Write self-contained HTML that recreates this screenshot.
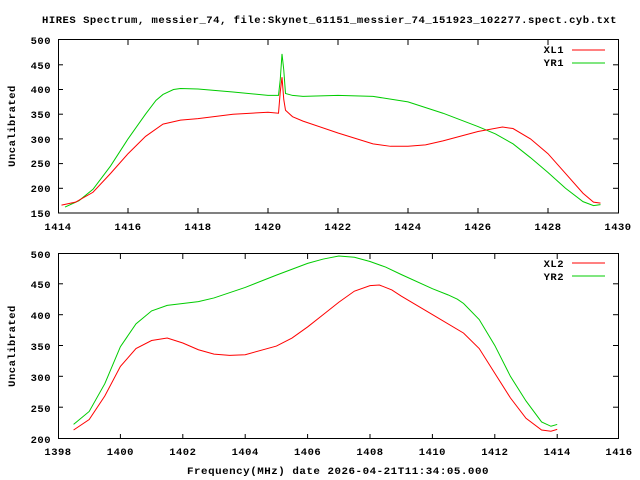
<!DOCTYPE html>
<html><head><style>
body{margin:0;background:#fff;}
svg{display:block;}
text{font-family:"Liberation Mono",monospace;font-size:10.5px;font-weight:bold;fill:#000;letter-spacing:0.5px;}
.l{fill:none;stroke-width:1;vector-effect:non-scaling-stroke;}
</style></head><body>
<svg width="640" height="480" xmlns="http://www.w3.org/2000/svg">
<text x="42" y="23" textLength="575" lengthAdjust="spacingAndGlyphs">HIRES Spectrum, messier_74, file:Skynet_61151_messier_74_151923_102277.spect.cyb.txt</text>
<!-- plot 1 -->
<rect x="58.5" y="39.5" width="560" height="173.5" fill="none" stroke="#000"/>
<g stroke="#000">
<line x1="128" y1="213" x2="128" y2="208"/><line x1="198" y1="213" x2="198" y2="208"/><line x1="268" y1="213" x2="268" y2="208"/><line x1="338" y1="213" x2="338" y2="208"/><line x1="408" y1="213" x2="408" y2="208"/><line x1="478" y1="213" x2="478" y2="208"/><line x1="548" y1="213" x2="548" y2="208"/>
<line x1="128" y1="40" x2="128" y2="45"/><line x1="198" y1="40" x2="198" y2="45"/><line x1="268" y1="40" x2="268" y2="45"/><line x1="338" y1="40" x2="338" y2="45"/><line x1="408" y1="40" x2="408" y2="45"/><line x1="478" y1="40" x2="478" y2="45"/><line x1="548" y1="40" x2="548" y2="45"/>
<line x1="58" y1="188.3" x2="63" y2="188.3"/><line x1="58" y1="163.6" x2="63" y2="163.6"/><line x1="58" y1="138.9" x2="63" y2="138.9"/><line x1="58" y1="114.2" x2="63" y2="114.2"/><line x1="58" y1="89.5" x2="63" y2="89.5"/><line x1="58" y1="64.8" x2="63" y2="64.8"/>
<line x1="618" y1="188.3" x2="613" y2="188.3"/><line x1="618" y1="163.6" x2="613" y2="163.6"/><line x1="618" y1="138.9" x2="613" y2="138.9"/><line x1="618" y1="114.2" x2="613" y2="114.2"/><line x1="618" y1="89.5" x2="613" y2="89.5"/><line x1="618" y1="64.8" x2="613" y2="64.8"/>
</g>
<g text-anchor="end">
<text x="51" y="217">150</text><text x="51" y="192">200</text><text x="51" y="167">250</text><text x="51" y="143">300</text><text x="51" y="118">350</text><text x="51" y="93">400</text><text x="51" y="69">450</text><text x="51" y="44">500</text>
</g>
<g text-anchor="middle">
<text x="58" y="230">1414</text><text x="128" y="230">1416</text><text x="198" y="230">1418</text><text x="268" y="230">1420</text><text x="338" y="230">1422</text><text x="408" y="230">1424</text><text x="478" y="230">1426</text><text x="548" y="230">1428</text><text x="618" y="230">1430</text>
</g>
<text transform="translate(15,126) rotate(-90)" text-anchor="middle">Uncalibrated</text>
<text x="564" y="53" text-anchor="end">XL1</text><line x1="572" y1="50" x2="605" y2="50" stroke="#f00"/>
<text x="564" y="66" text-anchor="end">YR1</text><line x1="572" y1="63" x2="605" y2="63" stroke="#0c0"/>
<g transform="translate(58,213) scale(35,-0.494) translate(-1414,-150)">
<polyline class="l" stroke="#0c0" points="1414.2,162 1414.6,175 1415,198 1415.5,245 1416,300 1416.5,350 1416.8,378 1417,390 1417.3,400 1417.5,402 1418,401 1419,395 1420,388 1420.3,388 1420.35,420 1420.4,472 1420.45,440 1420.5,392 1420.7,388 1421,386 1422,388 1423,386 1424,375 1425,352 1426,325 1426.5,310 1427,290 1427.5,262 1428,232 1428.5,200 1429,173 1429.3,165 1429.5,167"/>
<polyline class="l" stroke="#f00" points="1414.1,166 1414.5,172 1415,192 1415.5,230 1416,270 1416.5,305 1417,330 1417.5,338 1418,341 1419,350 1420,354 1420.3,352 1420.35,395 1420.4,425 1420.45,380 1420.5,358 1420.7,345 1421,336 1422,312 1423,290 1423.5,285 1424,285 1424.5,288 1425,296 1426,315 1426.7,324 1427,321 1427.5,300 1428,270 1428.5,230 1429,190 1429.3,172 1429.5,170"/>
</g>
<!-- plot 2 -->
<rect x="58.5" y="253.5" width="560" height="185" fill="none" stroke="#000"/>
<g stroke="#000">
<line x1="120.4" y1="439" x2="120.4" y2="434"/><line x1="182.8" y1="439" x2="182.8" y2="434"/><line x1="245.2" y1="439" x2="245.2" y2="434"/><line x1="307.6" y1="439" x2="307.6" y2="434"/><line x1="370" y1="439" x2="370" y2="434"/><line x1="432.4" y1="439" x2="432.4" y2="434"/><line x1="494.8" y1="439" x2="494.8" y2="434"/><line x1="557.2" y1="439" x2="557.2" y2="434"/>
<line x1="120.4" y1="254" x2="120.4" y2="259"/><line x1="182.8" y1="254" x2="182.8" y2="259"/><line x1="245.2" y1="254" x2="245.2" y2="259"/><line x1="307.6" y1="254" x2="307.6" y2="259"/><line x1="370" y1="254" x2="370" y2="259"/><line x1="432.4" y1="254" x2="432.4" y2="259"/><line x1="494.8" y1="254" x2="494.8" y2="259"/><line x1="557.2" y1="254" x2="557.2" y2="259"/>
<line x1="58" y1="407.2" x2="63" y2="407.2"/><line x1="58" y1="376.3" x2="63" y2="376.3"/><line x1="58" y1="345.5" x2="63" y2="345.5"/><line x1="58" y1="314.7" x2="63" y2="314.7"/><line x1="58" y1="283.8" x2="63" y2="283.8"/>
<line x1="618" y1="407.2" x2="613" y2="407.2"/><line x1="618" y1="376.3" x2="613" y2="376.3"/><line x1="618" y1="345.5" x2="613" y2="345.5"/><line x1="618" y1="314.7" x2="613" y2="314.7"/><line x1="618" y1="283.8" x2="613" y2="283.8"/>
</g>
<g text-anchor="end">
<text x="51" y="443">200</text><text x="51" y="412">250</text><text x="51" y="381">300</text><text x="51" y="350">350</text><text x="51" y="319">400</text><text x="51" y="288">450</text><text x="51" y="258">500</text>
</g>
<g text-anchor="middle">
<text x="58" y="455">1398</text><text x="120.4" y="455">1400</text><text x="182.8" y="455">1402</text><text x="245.2" y="455">1404</text><text x="307.6" y="455">1406</text><text x="370" y="455">1408</text><text x="432.4" y="455">1410</text><text x="494.8" y="455">1412</text><text x="557.2" y="455">1414</text><text x="619" y="455">1416</text>
</g>
<text transform="translate(15,346) rotate(-90)" text-anchor="middle">Uncalibrated</text>
<text x="187" y="474" textLength="302" lengthAdjust="spacingAndGlyphs">Frequency(MHz) date 2026-04-21T11:34:05.000</text>
<text x="564" y="267" text-anchor="end">XL2</text><line x1="572" y1="263" x2="605" y2="263" stroke="#f00"/>
<text x="564" y="280" text-anchor="end">YR2</text><line x1="572" y1="276" x2="605" y2="276" stroke="#0c0"/>
<g transform="translate(58,438) scale(31.2,-0.617) translate(-1398,-200)">
<polyline class="l" stroke="#0c0" points="1398.5,222 1399,243 1399.5,288 1400,348 1400.5,385 1401,406 1401.5,415 1402,418 1402.5,421 1403,427 1404,444 1405,464 1406,483 1406.5,490 1407,495 1407.5,493 1408,486 1408.5,477 1409,465 1410,442 1410.5,432 1410.8,425 1411,418 1411.5,392 1412,350 1412.5,300 1413,260 1413.5,226 1413.8,219 1414,222"/>
<polyline class="l" stroke="#f00" points="1398.5,213 1399,230 1399.5,268 1400,316 1400.5,345 1401,358 1401.5,362 1402,354 1402.5,343 1403,336 1403.5,334 1404,335 1405,349 1405.5,362 1406,380 1406.5,400 1407,420 1407.5,438 1408,447 1408.3,448 1408.7,440 1409,430 1410,400 1411,370 1411.5,345 1412,305 1412.5,265 1413,232 1413.5,213 1413.8,211 1414,214"/>
</g>
</svg>
</body></html>
